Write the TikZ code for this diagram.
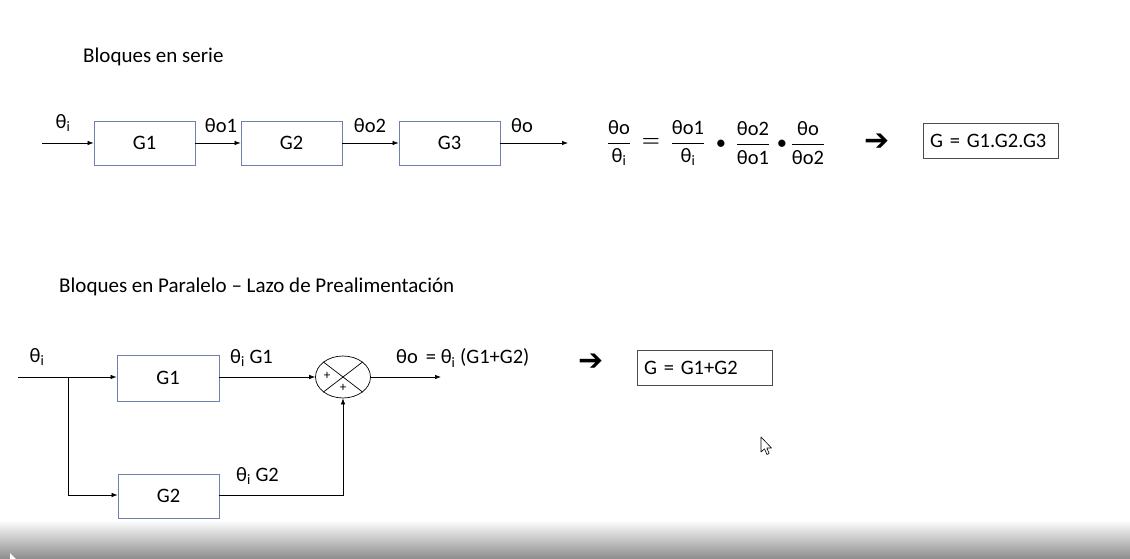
\documentclass[tikz,border=0pt]{standalone}
\usepackage{amsmath}
\usepackage{fontspec}
\setmainfont{Carlito}
\newfontfamily\dejavu{DejaVu Sans}
\usetikzlibrary{shapes.geometric,arrows.meta}
\definecolor{boxc}{RGB}{112,128,172}
\begin{document}
\begin{tikzpicture}[x=1pt,y=-1pt,
  every node/.style={font=\fontsize{20.5}{24}\selectfont},
  blk/.style={draw=boxc, line width=0.8pt, minimum width=101pt, minimum height=44pt, inner sep=0pt},
  res/.style={draw=black!70, line width=0.9pt, minimum height=35pt, text width=121pt, inner xsep=7pt, align=left},
  conn/.style={line width=0.7pt, -{Latex[length=6pt,width=4.5pt]}},
  wire/.style={line width=0.7pt},
  bigarrow/.style={inner sep=0pt, font=\dejavu\fontsize{30}{32}\selectfont},
  lbl/.style={inner sep=0pt}]
\path[use as bounding box] (0,0) rectangle (1130,559);
% Series
\node[lbl, anchor=west, font=\fontsize{21}{25}\selectfont] (t1) at (83,57) {Bloques en serie};
\node[blk] (g1) at (144.5,143) {G1};
\node[blk] (g2) at (291.5,143) {G2};
\node[blk] (g3) at (449.5,143) {G3};
\coordinate (in1) at (42,143);
\coordinate (out1) at (568,143);
\draw[conn] (in1) -- (g1.west);
\draw[conn] (g1.east) -- (g2.west);
\draw[conn] (g2.east) -- (g3.west);
\draw[conn] (g3.east) -- (out1);
\node[lbl] (li) at (63,123) {θ\textsubscript{i}};
\node[lbl] (lo1) at (221,126) {θo1};
\node[lbl] (lo2) at (370,126) {θo2};
\node[lbl] (lo) at (522,126) {θo};
% equation
\node[lbl] (f1) at (619,143) {$\dfrac{\text{θo}}{\text{θ\textsubscript{i}}}$};
\node[lbl] (eq) at (651,142) {$\boldsymbol{=}$};
\node[lbl] (f2) at (688,143) {$\dfrac{\text{θo1}}{\text{θ\textsubscript{i}}}$};
\node[lbl] (d1) at (721,145) {•};
\node[lbl] (f3) at (753,143) {$\dfrac{\text{θo2}}{\text{θo1}}$};
\node[lbl] (d2) at (782,145) {•};
\node[lbl] (f4) at (808,143) {$\dfrac{\text{θo}}{\text{θo2}}$};
\node[bigarrow] (ar1) at (877,142) {➔};
\node[res] (r1) at (990.5,140.5) {G = G1.G2.G3};
% Parallel
\node[lbl, anchor=west, font=\fontsize{21}{25}\selectfont] (t2) at (59,287) {Bloques en Paralelo – Lazo de Prealimentación};
\node[blk, minimum height=46pt, minimum width=102pt] (p1) at (168,378) {G1};
\node[blk] (p2) at (168.5,496) {G2};
\node[draw, ellipse, line width=0.7pt, minimum width=55pt, minimum height=42pt, inner sep=0pt] (s) at (343,377) {};
\draw[wire] (s.north west) -- (s.south east);
\draw[wire] (s.north east) -- (s.south west);
\node[lbl, font=\fontsize{13}{15}\selectfont] (pl1) at (327,376) {+};
\node[lbl, font=\fontsize{13}{15}\selectfont] (pl2) at (343,388) {+};
\coordinate (in2) at (18,377);
\coordinate (br) at (68,377);
\coordinate (br2) at (68,495);
\coordinate (c2) at (343,495);
\coordinate (out2) at (441,377);
\draw[wire] (in2) -- (br);
\draw[conn] (br) -- (p1.west |- br);
\draw[conn] (br) -- (br2) -- (p2.west |- br2);
\draw[conn] (p1.east |- br) -- (s.west);
\draw[conn] (p2.east |- c2) -- (c2) -- (s.south);
\draw[conn] (s.east) -- (out2);
\node[lbl] (pi) at (37,357) {θ\textsubscript{i}};
\node[lbl, anchor=west] (lg1) at (230,358) {θ\textsubscript{i} G1};
\node[lbl, anchor=west] (lg2) at (236,476) {θ\textsubscript{i} G2};
\node[lbl, anchor=west] (lout) at (396,358) {θo \,= θ\textsubscript{i} (G1+G2)};
\node[bigarrow] (ar2) at (591,362) {➔};
\node[res] (r2) at (704.5,368) {G = G1+G2};
% cursor
\draw[line width=0.6pt, fill=white, line join=round] (761,437) -- (761,452) -- (764.5,448.8) -- (767,454.5) -- (769.2,453.5) -- (766.8,448) -- (771.5,448) -- cycle;
% video bar
\shade[top color=white, bottom color=black!45] (0,520) rectangle (1130,559);
\fill[white] (10,553) -- (10,559) -- (16,559) -- cycle;
\end{tikzpicture}
\end{document}
